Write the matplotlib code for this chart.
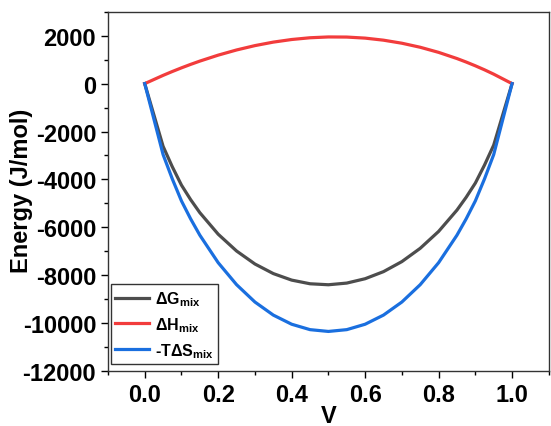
import numpy as np
import matplotlib
matplotlib.use("Agg")
import matplotlib.pyplot as plt
from matplotlib.ticker import MultipleLocator

plt.rcParams['font.family'] = ['Liberation Sans', 'DejaVu Sans']
plt.rcParams['font.weight'] = 'bold'
plt.rcParams['axes.unicode_minus'] = False
plt.rcParams['mathtext.fontset'] = 'custom'
plt.rcParams['mathtext.rm'] = 'Liberation Sans:bold'
plt.rcParams['mathtext.it'] = 'Liberation Sans:bold'
plt.rcParams['mathtext.bf'] = 'Liberation Sans:bold'

# composition V
v = [0.0, 0.05, 0.075, 0.1, 0.125, 0.15, 0.2, 0.25, 0.3, 0.35, 0.4, 0.45, 0.5,
     0.55, 0.6, 0.65, 0.7, 0.75, 0.8, 0.85, 0.875, 0.9, 0.925, 0.95, 1.0]

# energies (J/mol)
dH = [0, 345, 506, 659, 804, 941, 1190, 1406, 1588, 1734, 1843, 1916, 1950,
      1945, 1901, 1815, 1688, 1519, 1306, 1048, 902, 745, 577, 396, 0]
mTdS = [0, -2964, -3978, -4900, -5650, -6330, -7480, -8397, -9122, -9668, -10050, -10276, -10351,
        -10276, -10050, -9668, -9122, -8397, -7480, -6330, -5650, -4900, -3978, -2964, 0]
dG = [0, -2619, -3472, -4240, -4846, -5390, -6290, -6991, -7534, -7934, -8207, -8360, -8401,
      -8331, -8149, -7853, -7434, -6878, -6174, -5282, -4748, -4155, -3401, -2568, 0]

labels = ['ΔG$_{mix}$', 'ΔH$_{mix}$', '-TΔS$_{mix}$']
colors = ['#4D4D4D', '#F23C3C', '#1A6FDF']

fig = plt.figure(figsize=(5.51, 4.27), dpi=100)
ax = fig.add_axes([0.196, 0.129, 0.8, 0.841])

ax.plot(v, dG, color=colors[0], lw=2.3, label=labels[0])
ax.plot(v, dH, color=colors[1], lw=2.3, label=labels[1])
ax.plot(v, mTdS, color=colors[2], lw=2.3, label=labels[2])

ax.set_xlim(-0.1, 1.1)
ax.set_ylim(-12000, 3000)
ax.xaxis.set_minor_locator(MultipleLocator(0.1))
ax.yaxis.set_minor_locator(MultipleLocator(1000))
ax.set_xticks([0, 0.2, 0.4, 0.6, 0.8, 1.0])
ax.set_xticklabels(['0.0', '0.2', '0.4', '0.6', '0.8', '1.0'])
ax.set_yticks(range(-12000, 2001, 2000))

ax.tick_params(which='major', direction='out', length=5, width=1, labelsize=17)
ax.tick_params(which='minor', direction='out', length=3, width=1)
for s in ax.spines.values():
    s.set_linewidth(1)
    s.set_color('#333333')

ax.set_xlabel('V', fontsize=17, fontweight='bold', labelpad=-1)
ax.set_ylabel('Energy (J/mol)', fontsize=17, fontweight='bold', va='center')
ax.yaxis.set_label_coords(-0.197, 0.503)

leg = ax.legend(loc='lower left', bbox_to_anchor=(0.006, 0.018), borderaxespad=0,
                fontsize=11.5, handlelength=2.1, handletextpad=0.35, labelspacing=0.45,
                borderpad=0.3, fancybox=False, framealpha=1)
leg.get_frame().set_edgecolor('#333333')
leg.get_frame().set_linewidth(1)

fig.savefig('out.png', dpi=100)
